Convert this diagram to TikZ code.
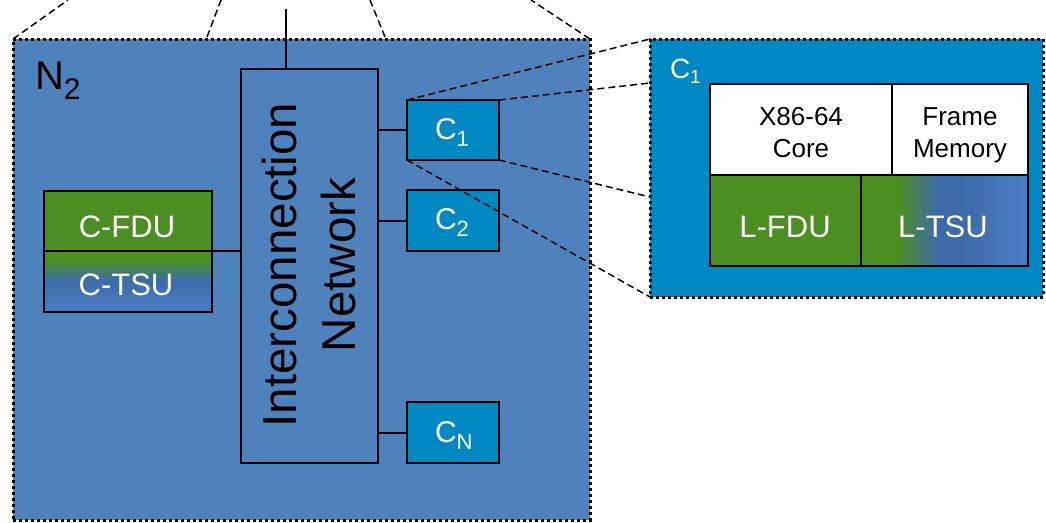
\documentclass[tikz,border=0pt]{standalone}
\usepackage{fontspec}
\setmainfont{Liberation Sans}
\usetikzlibrary{calc}

\definecolor{nodeblue}{HTML}{4F81BD}
\definecolor{coreteal}{HTML}{0088C2}
\definecolor{unitgreen}{HTML}{4B8F22}
\definecolor{tsudark}{HTML}{3D6BAA}
\definecolor{tsulight}{HTML}{4A7EC4}

% green-to-blue blends of the thread scheduling units
\pgfdeclareverticalshading{ctsushade}{100bp}{color(0bp)=(tsulight); color(25bp)=(tsulight); color(51bp)=(tsudark); color(67bp)=(unitgreen); color(100bp)=(unitgreen)}
\pgfdeclarehorizontalshading{ltsushade}{100bp}{color(0bp)=(unitgreen); color(36bp)=(unitgreen); color(48bp)=(tsudark); color(55bp)=(tsudark); color(75bp)=(tsulight); color(100bp)=(tsulight)}

\newcommand{\fs}[1]{\fontsize{#1}{#1}\selectfont}
% subscript: size, drop, text
\newcommand{\subtxt}[3]{\raisebox{-#2pt}{\fs{#1}#3}}

\begin{document}
\begin{tikzpicture}[x=1pt,y=-1pt,
  box/.style={draw=black, line width=2pt, inner sep=0pt, outer sep=0pt},
  dotbox/.style={draw=black, line width=3pt, dash pattern=on 3pt off 3pt, inner sep=0pt, outer sep=0pt},
  zoomline/.style={draw=black, line width=1.5pt, dash pattern=on 7pt off 4pt},
  wire/.style={draw=black, line width=2pt},
  txt/.style={inner sep=0pt, outer sep=0pt},
]
\useasboundingbox (0,0) rectangle (1046,522);

% node N2
\node[dotbox, fill=nodeblue, minimum width=577pt, minimum height=481pt] (n2) at (301.5,279.5) {};
\node[txt, anchor=base west] (n2lbl) at (35,89) {\fs{40}N\subtxt{30}{10}{2}};

% lines towards the enclosing level
\coordinate (t1) at (68,0);   \coordinate (b1) at (13,39);
\coordinate (t2) at (221,0);  \coordinate (b2) at (207,37);
\coordinate (t3) at (370,0);  \coordinate (b3) at (385,37);
\coordinate (t4) at (531,0);  \coordinate (b4) at (590,39);
\draw[zoomline] (b1) -- (t1);
\draw[zoomline] (b2) -- (t2);
\draw[zoomline] (b3) -- (t3);
\draw[zoomline] (b4) -- (t4);

% interconnection network
\node[box, minimum width=137pt, minimum height=394pt] (net) at (309.5,266) {};
\node[txt, rotate=90, align=center, font=\fontsize{47.5}{59}\selectfont] (netlbl) at (309.5,265)
  {Interconnection\\Network};
\coordinate (uplink) at (286,9);
\draw[wire] (uplink) -- (uplink |- net.north);

% cores
\node[box, fill=coreteal, minimum width=92pt, minimum height=60pt] (c1) at (453,130) {};
\node[box, fill=coreteal, minimum width=92pt, minimum height=61pt] (c2) at (453,220.5) {};
\node[box, fill=coreteal, minimum width=92pt, minimum height=61pt] (cn) at (453,432.5) {};
\node[txt, anchor=base west, text=white] (c1lbl) at (435,139) {\fs{30}C\subtxt{22}{7}{1}};
\node[txt, anchor=base west, text=white] (c2lbl) at (435,229) {\fs{30}C\subtxt{22}{7}{2}};
\node[txt, anchor=base west, text=white] (cnlbl) at (435,442) {\fs{30}C\subtxt{22}{7}{N}};
\draw[wire] (c1.west) -- (c1.west -| net.east);
\draw[wire] (c2.west) -- (c2.west -| net.east);
\draw[wire] (cn.west) -- (cn.west -| net.east);

% cluster units
\node[box, fill=unitgreen, minimum width=168pt, minimum height=60pt] (cfdu) at (128,221) {};
\node[box, shade, shading=ctsushade, minimum width=168pt, minimum height=61pt] (ctsu) at (128,281.5) {};
\node[txt, anchor=base, text=white] (cfdulbl) at (127,237) {\fs{31}C-FDU};
\node[txt, anchor=base, text=white] (ctsulbl) at (126,295) {\fs{31}C-TSU};
\draw[wire] (cfdu.south east) -- (cfdu.south east -| net.west);

% detail of core C1
\node[dotbox, fill=coreteal, minimum width=393pt, minimum height=258pt] (detail) at (846.5,168) {};
\node[txt, anchor=base west, text=white] (dlbl) at (670,78) {\fs{28}C\subtxt{19}{5}{1}};
\node[box, fill=white, minimum width=182pt, minimum height=91pt] (core) at (801,129.5) {};
\node[box, fill=white, minimum width=136pt, minimum height=91pt] (fmem) at (960,129.5) {};
\node[box, fill=unitgreen, minimum width=151pt, minimum height=91pt] (lfdu) at (785.5,220.5) {};
\node[box, shade, shading=ltsushade, minimum width=167pt, minimum height=91pt] (ltsu) at (944.5,220.5) {};
\node[txt, anchor=base] (corel1) at (801,125) {\fs{26}X86-64};
\node[txt, anchor=base] (corel2) at (801,157) {\fs{26}Core};
\node[txt, anchor=base] (fmeml1) at (960,125) {\fs{26}Frame};
\node[txt, anchor=base] (fmeml2) at (960,157) {\fs{26}Memory};
\node[txt, anchor=base, text=white] (lfdulbl) at (785,237) {\fs{31}L-FDU};
\node[txt, anchor=base, text=white] (ltsulbl) at (943,237) {\fs{31}L-TSU};

% zoom from C1 to its detail
\coordinate (dz2) at (650,83);
\coordinate (dz3) at (650,197);
\draw[zoomline] (c1.north west) -- (detail.north west);
\draw[zoomline] (c1.north east) -- (dz2);
\draw[zoomline] (c1.south east) -- (dz3);
\draw[zoomline] (c1.south west) -- (detail.south west);
\end{tikzpicture}
\end{document}
